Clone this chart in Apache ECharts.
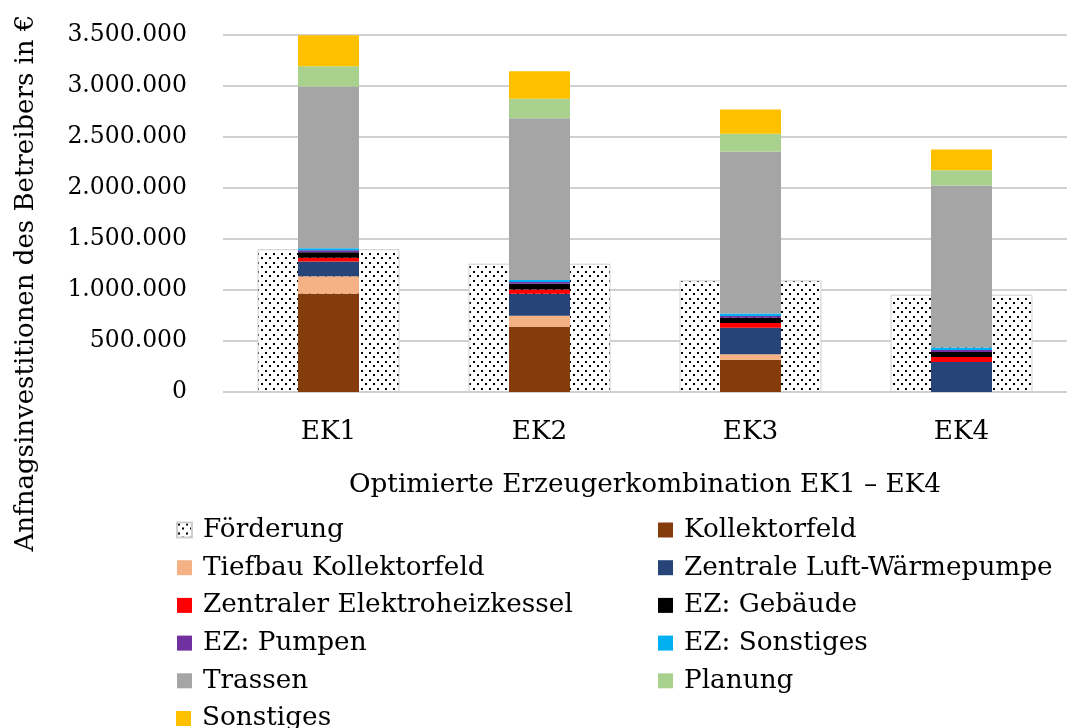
<!DOCTYPE html>
<html>
<head>
<meta charset="utf-8">
<script src="https://cdn.jsdelivr.net/npm/echarts@6/dist/echarts.min.js"></script>
<style>
  html, body { margin: 0; padding: 0; background: #fff; }
  #chart { width: 1067px; height: 728px; }
</style>
</head>
<body>
<div id="chart"></div>
<script>
// Categories (generator combinations)
const categories = ['EK1', 'EK2', 'EK3', 'EK4'];

// Funding, drawn as a wide dotted bar behind the cost stack (€)
const foerderung = [1400000, 1258000, 1094000, 954000];

// Cost components, stacked from bottom to top (€)
const kollektorfeld        = [963000, 637000, 317000, 0];
const tiefbauKollektorfeld = [173000, 111000, 52000, 0];
const luftWaermepumpe      = [144000, 216000, 262000, 294000];
const elektroheizkessel    = [35000, 42000, 45000, 49000];
const ezGebaeude           = [55000, 56000, 53000, 49000];
const ezPumpen             = [20000, 16000, 16000, 20000];
const ezSonstiges          = [20000, 20000, 24000, 24000];
const trassen              = [1584000, 1587000, 1589000, 1589000];
const planung              = [199000, 190000, 174000, 150000];
const sonstiges            = [304000, 270000, 238000, 203000];

// Y-axis ticks
const yMin = 0, yMax = 3500000, yStep = 500000;

const FONT = 'DejaVu Serif';
const FS_TICK = 23.5;
const FS = 26.3;
const ROW = 37.7;      // legend row pitch
const LEG_TOP = 517;

function fmtDe(v) {
  return String(Math.round(v)).replace(/\B(?=(\d{3})+(?!\d))/g, '.');
}

// Dotted fill for the funding bars
function dotPattern() {
  const c = document.createElement('canvas');
  c.width = 8; c.height = 9;
  const g = c.getContext('2d');
  g.fillStyle = '#ffffff';
  g.fillRect(0, 0, 8, 9);
  g.fillStyle = '#000000';
  g.fillRect(1, 1, 2, 2);
  g.fillRect(5, 5, 2, 2);
  return c;
}

const stackDefs = [
  ['Kollektorfeld', kollektorfeld, '#843C0C'],
  ['Tiefbau Kollektorfeld', tiefbauKollektorfeld, '#F4B183'],
  ['Zentrale Luft-Wärmepumpe', luftWaermepumpe, '#264478'],
  ['Zentraler Elektroheizkessel', elektroheizkessel, '#FF0000'],
  ['EZ: Gebäude', ezGebaeude, '#000000'],
  ['EZ: Pumpen', ezPumpen, '#7030A0'],
  ['EZ: Sonstiges', ezSonstiges, '#00B0F0'],
  ['Trassen', trassen, '#A5A5A5'],
  ['Planung', planung, '#A9D18E'],
  ['Sonstiges', sonstiges, '#FFC000']
];

const series = [{
  name: 'Förderung',
  type: 'bar',
  xAxisIndex: 0,
  barWidth: 142,
  z: 1,
  data: foerderung,
  itemStyle: {
    color: { image: dotPattern(), repeat: 'repeat' },
    borderColor: '#cfcfcf',
    borderWidth: 1
  }
}];
stackDefs.forEach(([name, data, color]) => {
  series.push({
    name: name,
    type: 'bar',
    stack: 'kosten',
    xAxisIndex: 1,
    barWidth: 61,
    z: 2,
    data: data,
    itemStyle: { color: color }
  });
});

const legendText = { fontFamily: FONT, fontSize: FS, lineHeight: 26, color: '#000', padding: [0, 0, 0, 6] };

function legendColumn(left, top, names) {
  return {
    orient: 'vertical',
    left: left,
    top: top,
    padding: 0,
    itemWidth: 15,
    itemHeight: 15,
    itemGap: ROW - 26,
    icon: 'rect',
    data: names,
    textStyle: legendText
  };
}

const chart = echarts.init(document.getElementById('chart'), null, { renderer: 'canvas' });
chart.setOption({
  animation: false,
  backgroundColor: '#ffffff',
  textStyle: { fontFamily: FONT, color: '#000' },
  grid: { left: 223, top: 35, width: 850, height: 357 },
  xAxis: [{
    type: 'category',
    data: categories,
    axisLine: { show: false },
    axisTick: { show: false },
    axisLabel: { fontFamily: FONT, fontSize: FS, color: '#000', margin: 27 },
    name: 'Optimierte Erzeugerkombination EK1 – EK4',
    nameLocation: 'middle',
    nameGap: 80,
    nameTextStyle: { fontFamily: FONT, fontSize: FS, color: '#000' }
  }, {
    type: 'category',
    data: categories,
    show: false
  }],
  yAxis: {
    type: 'value',
    min: yMin,
    max: yMax,
    interval: yStep,
    axisLine: { show: false },
    axisTick: { show: false },
    axisLabel: {
      fontFamily: FONT, fontSize: FS_TICK, color: '#000', margin: 36,
      formatter: v => fmtDe(v)
    },
    splitLine: { lineStyle: { color: '#d0d0d0', width: 2 } }
  },
  legend: [
    legendColumn(176, LEG_TOP, ['Förderung', 'Tiefbau Kollektorfeld', 'Zentraler Elektroheizkessel', 'EZ: Pumpen', 'Trassen']),
    legendColumn(176, LEG_TOP + 5 * ROW, ['Sonstiges']),
    legendColumn(658, LEG_TOP, ['Kollektorfeld', 'Zentrale Luft-Wärmepumpe', 'EZ: Gebäude', 'EZ: Sonstiges', 'Planung'])
  ],
  graphic: [{
    type: 'text',
    x: 26,
    y: 283,
    rotation: Math.PI / 2,
    style: {
      text: 'Anfnagsinvestitionen des Betreibers in €',
      font: '26px "' + FONT + '"',
      fill: '#000',
      textAlign: 'center',
      textVerticalAlign: 'middle'
    }
  }],
  series: series
});
</script>
</body>
</html>
